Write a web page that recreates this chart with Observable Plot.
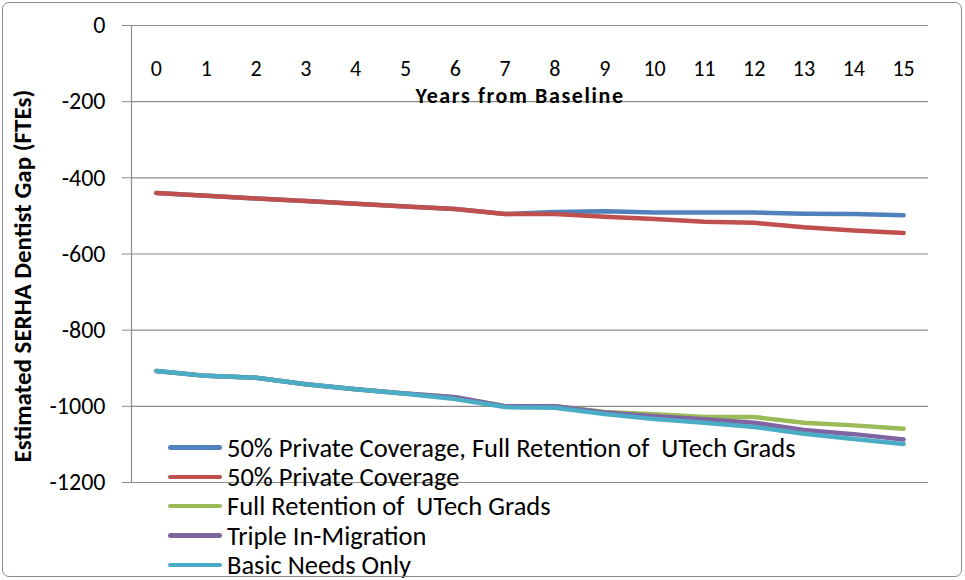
<!DOCTYPE html>
<html>
<head>
<meta charset="utf-8">
<script src="https://cdn.jsdelivr.net/npm/d3@7"></script>
<script src="https://cdn.jsdelivr.net/npm/@observablehq/plot@0.6"></script>
<style>
  body { margin: 0; background: #fff; font-family: Carlito, Lato, sans-serif; }
  #wrap { position: relative; width: 965px; height: 580px; overflow: hidden; }
  #frame { position: absolute; left: 2px; top: 2px; width: 958px; height: 573px; border: 1.5px solid #8a8a8a; border-radius: 7px; pointer-events: none; }
  #legend { position: absolute; left: 168px; top: 433px; font-size: 26.5px; color: #000; }
  .row { display: flex; align-items: center; height: 29.3px; white-space: pre; }
  .sw { width: 54px; height: 4.5px; border-radius: 2.5px; margin-right: 5px; }
  .xlabel { letter-spacing: 1.6px; }
</style>
</head>
<body>
<div id="wrap"><div id="chart"></div><div id="legend"></div><div id="frame"></div></div>
<script>
const years = [0,1,2,3,4,5,6,7,8,9,10,11,12,13,14,15];
const yTicks = [0,-200,-400,-600,-800,-1000,-1200];
const seriesNames = [
  "50% Private Coverage, Full Retention of  UTech Grads",
  "50% Private Coverage",
  "Full Retention of  UTech Grads",
  "Triple In-Migration",
  "Basic Needs Only"
];
const seriesColors = ["#4F81BD", "#C0504D", "#9BBB59", "#8064A2", "#4BACC6"];
const privateFullRetention = [-440,-447,-454,-461,-468,-475,-482,-495,-490,-488,-491,-491,-491,-494,-495,-498];
const privateCoverage      = [-440,-447,-454,-461,-468,-475,-482,-495,-495,-502,-508,-515,-518,-530,-538,-545];
const fullRetention        = [-907,-920,-925,-942,-955,-966,-976,-1000,-1000,-1015,-1021,-1028,-1028,-1043,-1050,-1059];
const tripleInMigration    = [-907,-920,-925,-942,-955,-966,-976,-1000,-1000,-1016,-1026,-1034,-1043,-1062,-1073,-1087];
const basicNeeds           = [-907,-920,-925,-942,-955,-967,-981,-1002,-1004,-1020,-1033,-1043,-1054,-1072,-1086,-1099];

const seriesValues = [privateFullRetention, privateCoverage, fullRetention, tripleInMigration, basicNeeds];
const data = seriesNames.flatMap((s, i) => years.map((yr, j) => ({series: s, year: yr, value: seriesValues[i][j]})));

const chart = Plot.plot({
  width: 965,
  height: 580,
  marginLeft: 131,
  marginRight: 37,
  marginTop: 25,
  marginBottom: 98,
  style: {fontFamily: "Carlito, Lato, sans-serif", fontSize: "24px", color: "#000", background: "transparent"},
  x: {domain: [-0.5, 15.5], axis: null},
  y: {domain: [-1200, 0], axis: null},
  color: {domain: seriesNames, range: seriesColors},
  marks: [
    Plot.ruleY(yTicks, {stroke: "#8c8c8c", strokeWidth: 1.2}),
    Plot.ruleX([-0.5], {stroke: "#8c8c8c", strokeWidth: 1.2}),
    Plot.axisY({ticks: yTicks, tickSize: 9, tickPadding: 17, stroke: "#8c8c8c", tickFormat: d => d === 0 ? "0" : "-" + Math.abs(d), fontSize: 24, label: null}),
    Plot.text(years, {x: d => d, y: () => 0, dy: 43, text: d => String(d), fontSize: 22}),
    Plot.text(["Years from Baseline"], {frameAnchor: "top", textAnchor: "middle", lineAnchor: "middle", dy: 70, dx: -10, fontWeight: "bold", fontSize: 22, className: "xlabel"}),
    Plot.text(["Estimated SERHA Dentist Gap (FTEs)"], {frameAnchor: "left", textAnchor: "middle", lineAnchor: "middle", rotate: -90, dx: -109, dy: 22, fontWeight: "bold", fontSize: 25}),
    Plot.line(data, {x: "year", y: "value", z: "series", stroke: "series", strokeWidth: 4.5, strokeLinejoin: "round", strokeLinecap: "round"})
  ]
});
document.getElementById("chart").appendChild(chart);

const legend = document.getElementById("legend");
seriesNames.forEach((s, i) => {
  const row = document.createElement("div");
  row.className = "row";
  const sw = document.createElement("div");
  sw.className = "sw";
  sw.style.background = seriesColors[i];
  const t = document.createElement("span");
  t.textContent = s;
  row.appendChild(sw);
  row.appendChild(t);
  legend.appendChild(row);
});
</script>
</body>
</html>
